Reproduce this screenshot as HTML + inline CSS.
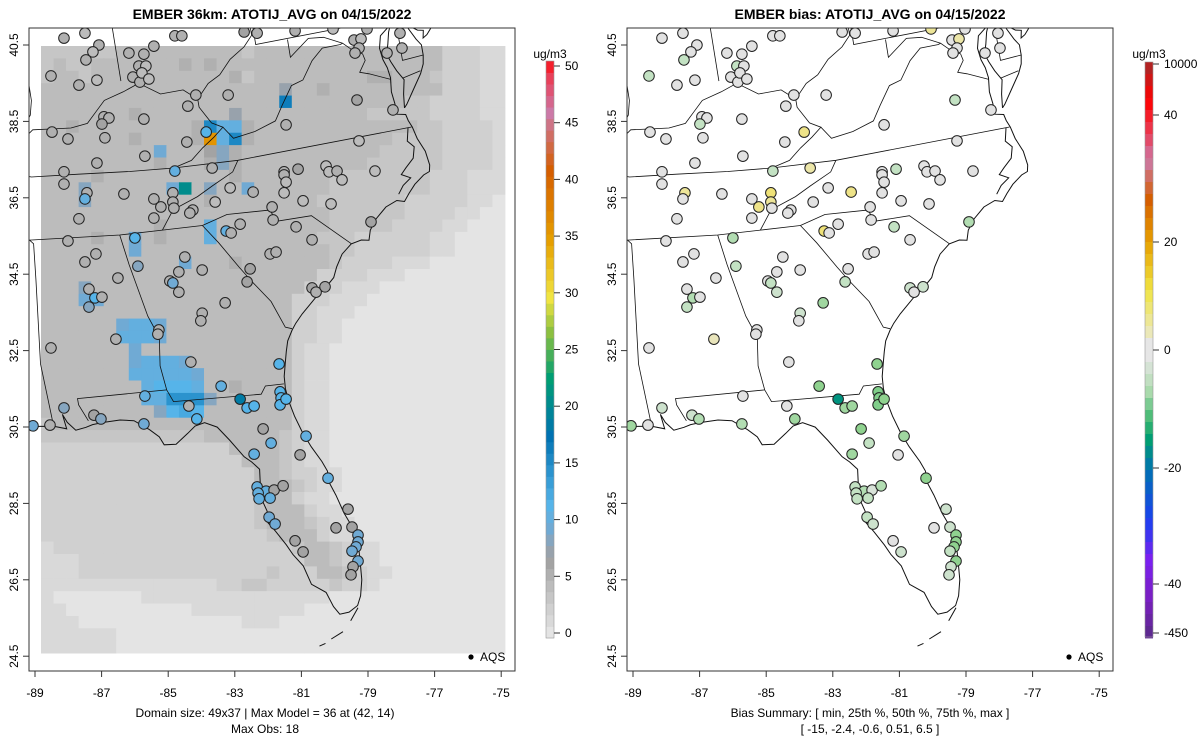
<!DOCTYPE html>
<html><head><meta charset="utf-8">
<style>
html,body{margin:0;padding:0;background:#fff;}
svg{display:block;font-family:"Liberation Sans",Arial,sans-serif;}
</style></head>
<body>
<svg id="chart" width="1200" height="750" viewBox="0 0 1200 750">
<defs>
<clipPath id="clipL"><rect x="29" y="28" width="486" height="643"/></clipPath>
<clipPath id="clipR"><rect x="627" y="28" width="486" height="643"/></clipPath>
</defs>
<g id="panelL"></g>
<g id="panelR"></g>
<text x="272" y="19" text-anchor="middle" font-size="14" font-weight="bold">EMBER 36km: ATOTIJ_AVG on 04/15/2022</text>
<text x="870" y="19" text-anchor="middle" font-size="14" font-weight="bold">EMBER bias: ATOTIJ_AVG on 04/15/2022</text>
<text x="265" y="717" text-anchor="middle" font-size="12">Domain size: 49x37 | Max Model = 36 at (42, 14)</text>
<text x="265" y="733" text-anchor="middle" font-size="12">Max Obs: 18</text>
<text x="870" y="717" text-anchor="middle" font-size="12">Bias Summary: [ min, 25th %, 50th %, 75th %, max ]</text>
<text x="870" y="733" text-anchor="middle" font-size="12">[ -15,   -2.4,   -0.6,   0.51,   6.5 ]</text>
</svg>
<script>
// ---------- data ----------
const xTicks=[-89,-87,-85,-83,-81,-79,-77,-75];
const yTicks=[40.5,38.5,36.5,34.5,32.5,30.5,28.5,26.5,24.5];
const cbTicks=[0,5,10,15,20,25,30,35,40,45,50];
const biasTickLabels=["10000","40","20","0","-20","-40","-450"];
const biasTickVals=[10000,40,20,0,-20,-40,-450];
// gridded model values (37 cols x 49 rows), base-36 digits
const gridRows=[
"3333334444444444344444444444444422211",
"3433444444454544444444444444444422211",
"3443444444444445344444444455444322211",
"4444444444444444444744544444444422211",
"4444444444444444444g44444444433222211",
"4444444544444447444444444433333222211",
"4454444444445faa544444444444443322221",
"4444444544445zaf544444444444333322221",
"4444444449444685444444444443333322221",
"4444444445444585444444444433333322221",
"4444544444444445444444433333333222111",
"44484444449k48449444444333333332221 1".replace(' ','1'),
"4448444444444544444444333333322222110",
"4444444444444444444444433333322221100",
"4444444445444a44444444433333222211000",
"4444544945444a44444444333222222110000",
"4444444944444444444444433222222110000",
"4444444444494445444444432222111000000",
"4444444444444444444444222211100000000",
"4448444444444444444442221110000000000",
"4449944444444444444422211100000000000",
"4444444444444444444422111000000000000",
"4444449aa9444444444422110000000000000",
"444444aaa9444444444422110000000000000",
"4444444944444444444421100000000000000",
"44444449aaa94444444421100000000000000",
"4444444aaaaa9444444421100000000000000",
"44444444abbba445444421100000000000000",
"44444444aaeee844444421100000000000000",
"4444444448bcb444444421100000000000000",
"3444444444444444444421100000000000000",
"3333333333333444444321100000000000000",
"2222222222222224444321100000000000000",
"2222222222222222444321100000000000000",
"2222222222222222244322110000000000000",
"2222222222222222244432110000000000000",
"2222222222222222234421100000000000000",
"2222222222222222234442110000000000000",
"2222222222222222234443211000000000000",
"2222222222222222223444211000000000000",
"1222222222222222222234432110000000000",
"1112222222222222222224432110000000000",
"1112222222222222223222443211000000000",
"1111111111111122332222232210000000000",
"1000000011111111111111100000000000000",
"1100000000001111111110000000000000000",
"1110000000000000111000000000000000000",
"1111110000000000000000000000000000000",
"1111110000000000000000000000000000000"
];
// monitoring sites (axis lon / lat), observed value, bias
const siteLon=[-88.13,-87.50,-87.08,-87.26,-87.47,-88.52,-87.68,-87.14,-86.18,-85.73,-85.43,-84.80,-84.59,-85.88,-85.67,-86.06,-85.85,-85.79,-85.58,-82.72,-82.33,-81.19,-80.05,-79.03,-79.42,-79.21,-79.27,-79.39,-78.43,-77.98,-78.04,-84.17,-84.41,-83.20,-85.73,-86.93,-86.78,-86.99,-88.49,-88.01,-86.90,-83.86,-84.44,-81.46,-79.33,-78.25,-85.70,-87.14,-88.13,-88.13,-84.80,-83.68,-81.52,-81.52,-81.10,-81.46,-80.26,-80.17,-79.93,-79.78,-78.79,-79.27,-87.44,-87.50,-86.33,-84.86,-84.86,-84.83,-85.43,-85.22,-84.26,-84.35,-83.59,-83.14,-82.45,-81.52,-81.88,-80.95,-80.11,-85.43,-87.68,-83.26,-83.11,-82.84,-81.85,-81.16,-80.68,-78.91,-86.00,-88.01,-87.17,-87.50,-85.91,-84.50,-86.51,-87.38,-87.20,-86.99,-87.38,-84.68,-84.95,-84.86,-84.68,-83.98,-82.54,-82.63,-81.94,-81.76,-80.68,-80.56,-80.29,-83.29,-83.98,-84.02,-85.28,-85.31,-86.57,-88.52,-84.32,-81.67,-83.41,-85.70,-82.84,-82.63,-82.42,-81.64,-81.61,-81.64,-81.46,-88.13,-87.23,-87.02,-88.55,-89.06,-85.73,-84.14,-84.38,-82.15,-81.91,-80.86,-81.04,-82.42,-80.20,-82.33,-82.06,-81.82,-81.55,-82.30,-82.27,-81.94,-81.97,-81.79,-81.19,-80.95,-79.60,-79.96,-79.48,-79.30,-79.30,-79.36,-79.48,-79.30,-79.45,-79.51];
const siteLat=[40.68,40.81,40.50,40.32,40.11,39.69,39.45,39.58,40.29,40.26,40.47,40.74,40.74,39.95,39.95,39.66,39.53,39.77,39.61,40.84,40.81,40.87,40.92,40.92,40.63,40.66,40.42,40.29,40.29,40.42,40.81,39.19,38.90,39.19,38.56,38.62,38.59,38.43,38.22,38.04,38.07,38.22,37.96,38.41,39.06,38.80,37.59,37.41,37.18,36.86,37.20,37.28,37.18,37.10,37.25,36.91,37.33,37.18,37.20,36.97,37.20,37.99,36.63,36.47,36.60,36.63,36.39,36.23,36.47,36.26,36.18,36.10,36.39,36.76,36.65,36.63,36.26,36.42,36.34,35.97,35.95,35.63,35.58,35.81,35.92,35.74,35.40,35.87,35.45,35.37,35.03,34.82,34.71,34.95,34.40,34.11,33.88,33.90,33.64,34.56,34.32,34.27,34.03,34.61,34.64,34.30,35.03,35.08,34.14,34.03,34.17,33.75,33.48,33.28,33.04,32.93,32.80,32.57,32.20,32.15,31.57,31.31,31.23,31.00,31.05,31.42,31.26,31.08,31.23,31.00,30.81,30.71,30.55,30.53,30.58,30.71,31.05,30.45,30.08,30.26,29.77,29.79,29.16,28.93,28.82,28.85,28.96,28.77,28.62,28.64,28.14,27.96,27.52,27.23,28.35,27.86,27.88,27.67,27.49,27.36,27.25,26.99,26.84,26.63];
const siteObs=[5,4,5,4,5,5,5,4,5,5,5,5,5,5,4,5,5,4,4,6,5,5,4,5,5,4,5,5,5,5,5,5,5,5,5,5,5,6,5,5,5,11,5,5,6,5,5,5,5,5,10,5,5,5,6,4,4,4,5,4,4,4,5,10,5,5,5,5,5,5,5,5,4,4,5,4,5,4,4,5,5,10,5,5,5,5,5,6,11,5,5,5,8,5,5,5,11,5,8,5,5,9,5,5,6,6,5,5,6,5,6,5,5,5,5,5,5,5,5,11,10,10,18,11,11,11,11,11,11,8,6,8,5,9,9,11,5,6,10,10,6,10,10,10,10,6,6,10,10,10,9,9,6,6,6,6,6,9,9,9,9,9,6,6];
const siteBias=[0,0,0,0,-3,-3,0,0,0,0,0,0,0,-3,0,0,0,0,0,0,0,0,4,0,0,3,0,0,0,0,0,0,0,0,0,0,0,-3,0,0,0,5,0,0,-3,0,0,0,0,0,-3,3,0,0,-3,0,0,0,0,0,0,0,4,0,0,6,4,0,0,5,0,0,0,0,5,0,0,0,0,0,0,6,0,0,0,-3,0,-4,-4,0,0,0,-3,0,0,0,-4,0,-3,0,0,-3,-2,0,0,-3,0,0,-2,0,-2,-5,-2,0,0,0,2,0,0,-6,-6,0,-15,-5,-5,-7,-7,-7,-6,-2,-2,-4,0,-5,-4,-5,0,-6,-3,-5,0,-5,-6,-3,-4,-1,-4,-3,-3,-3,-3,-2,0,-2,-2,0,-2,-6,-6,-6,-3,-6,-2,-2];

// ---------- geography (lon/lat outlines) ----------
const coastLines=[
[[-74.0,40.6],[-74.05,40.1],[-74.1,39.75],[-74.4,39.35],[-74.8,39.0],[-74.95,38.93],[-74.9,39.15],[-75.1,39.2],[-75.4,39.4],[-75.55,39.6],[-75.5,39.8]],
[[-75.55,39.6],[-75.4,39.3],[-75.2,38.95],[-75.05,38.75],[-75.05,38.45],[-75.1,38.2],[-75.25,37.95],[-75.6,37.55],[-75.9,37.2],[-76.0,37.12]],
[[-76.0,37.12],[-75.95,37.5],[-75.85,37.9],[-76.05,38.2],[-76.2,38.5],[-76.3,38.75],[-76.2,39.0],[-76.1,39.35],[-76.0,39.55],[-76.4,39.3],[-76.5,38.95],[-76.45,38.6],[-76.35,38.35],[-76.3,38.05],[-76.35,37.65],[-76.3,37.3],[-76.3,37.0],[-76.0,36.93],[-75.95,36.75],[-75.85,36.55],[-75.75,36.2],[-75.55,35.8],[-75.48,35.4],[-75.53,35.23],[-75.75,35.18],[-76.1,35.0],[-76.35,34.8],[-76.55,34.62],[-76.8,34.7],[-77.2,34.6],[-77.6,34.35],[-77.85,34.1],[-77.95,33.85],[-78.2,33.9],[-78.55,33.86],[-78.9,33.65],[-79.15,33.35],[-79.3,33.1],[-79.6,32.9],[-79.9,32.75],[-80.2,32.55],[-80.5,32.35],[-80.75,32.15],[-80.9,32.0],[-81.1,31.75],[-81.2,31.5],[-81.3,31.2],[-81.4,30.9],[-81.43,30.6],[-81.4,30.3],[-81.3,29.9],[-81.15,29.5],[-80.95,29.1],[-80.7,28.7],[-80.58,28.45],[-80.6,28.2],[-80.45,27.85],[-80.3,27.4],[-80.1,27.0],[-80.03,26.6],[-80.07,26.2],[-80.12,25.8],[-80.25,25.45],[-80.4,25.25],[-80.7,25.15],[-81.0,25.15],[-81.15,25.35],[-81.3,25.7],[-81.7,25.95],[-81.85,26.4],[-82.1,26.7],[-82.25,26.95],[-82.5,27.3],[-82.7,27.55],[-82.65,27.8],[-82.75,28.1],[-82.7,28.5],[-82.65,28.8],[-82.85,29.0],[-83.05,29.15],[-83.4,29.6],[-83.7,29.95],[-84.05,30.1],[-84.35,30.05],[-84.6,29.9],[-85.0,29.68],[-85.35,29.7],[-85.45,29.9],[-85.7,30.1],[-86.1,30.35],[-86.5,30.4],[-87.0,30.38],[-87.3,30.35],[-87.5,30.3],[-87.8,30.25],[-88.0,30.45],[-88.1,30.65],[-88.05,30.3],[-88.4,30.38],[-88.8,30.4],[-89.1,30.35],[-89.35,30.3],[-89.6,30.2],[-89.7,30.05],[-89.6,29.85]],
[[-76.0,36.55],[-76.1,36.2],[-75.9,36.0],[-76.0,35.7],[-76.3,35.5],[-76.5,35.35],[-76.2,35.2],[-76.5,35.05],[-76.7,34.85]],
[[-80.4,25.2],[-80.7,24.95]],[[-81.0,24.75],[-81.4,24.65]],[[-81.6,24.58],[-81.8,24.55]]
];
const borderLines=[
[[-89.1,37.0],[-88.5,37.1],[-88.1,37.5],[-87.6,37.9],[-87.0,37.9],[-86.5,37.9],[-86.0,38.0],[-85.7,38.3],[-85.4,38.6],[-84.8,38.8],[-84.3,39.0],[-83.7,38.65],[-83.0,38.7],[-82.6,38.4],[-82.2,38.8],[-81.8,39.0],[-81.4,39.4],[-80.9,39.7],[-80.6,40.0],[-80.6,40.6],[-80.52,40.64]],
[[-82.6,38.4],[-82.6,38.17],[-82.3,37.7],[-81.97,37.54],[-82.3,37.3],[-82.7,37.05],[-83.1,36.75],[-83.68,36.6]],
[[-88.1,37.5],[-87.9,37.9],[-87.6,38.3],[-87.5,38.7],[-87.5,39.3],[-87.53,41.0]],
[[-84.82,39.1],[-84.82,41.0]],
[[-81.97,37.54],[-81.7,37.2],[-81.0,37.3],[-80.3,37.5],[-80.0,37.9],[-79.6,38.4],[-79.2,38.5],[-78.8,39.0],[-78.4,39.3],[-77.8,39.3],[-77.7,39.32]],
[[-77.7,39.32],[-78.3,39.6],[-78.8,39.65],[-79.48,39.2],[-79.48,39.72]],
[[-80.52,41.0],[-80.52,39.72],[-75.79,39.72]],
[[-77.7,39.32],[-77.45,39.1],[-77.1,38.9],[-77.05,38.7],[-77.3,38.4],[-77.0,38.3],[-76.3,38.0]],
[[-75.79,39.72],[-75.79,38.45],[-75.05,38.45]],
[[-75.9,37.95],[-75.24,38.03]],
[[-75.5,39.8],[-74.9,40.1],[-75.0,40.4],[-75.2,40.6],[-75.1,41.0]],
[[-89.55,36.5],[-88.05,36.5],[-88.05,36.68],[-87.85,36.64],[-86.5,36.65],[-85.0,36.62],[-83.68,36.6],[-81.68,36.59],[-75.87,36.55]],
[[-81.68,36.59],[-81.9,36.3],[-82.6,36.0],[-83.1,35.77],[-83.9,35.5],[-84.32,35.0]],
[[-90.3,35.0],[-88.2,35.0],[-85.6,34.98],[-84.32,35.0],[-83.1,35.0]],
[[-83.1,35.0],[-82.3,35.2],[-81.04,35.15],[-80.93,35.1],[-80.78,34.82],[-79.67,34.8],[-78.54,33.86]],
[[-83.1,35.0],[-82.7,34.5],[-82.2,33.8],[-81.9,33.4],[-81.4,32.8],[-81.1,32.1],[-80.9,32.03]],
[[-85.6,34.98],[-85.47,34.2],[-85.18,32.86],[-84.95,32.3],[-85.07,31.6],[-85.0,31.0],[-84.86,30.7],[-82.2,30.57],[-82.03,30.75],[-81.45,30.72]],
[[-85.0,31.0],[-87.6,31.0],[-87.6,30.85],[-87.4,30.45]],
[[-88.2,35.0],[-88.1,34.9],[-88.2,34.0],[-88.47,31.9],[-88.4,30.39]],
[[-89.1,37.0],[-89.4,36.8],[-89.55,36.5],[-89.7,36.0],[-90.1,35.1],[-90.3,34.6],[-90.9,34.0]],
[[-89.6,30.2],[-89.75,31.0],[-91.6,31.0]]
];
// control points tying lon/lat to the map frame
const ctrlGeo=[[-75.53,35.25],[-75.87,36.55],[-76.53,34.6],[-77.95,33.85],[-78.54,33.86],[-79.9,32.75],[-80.9,32.03],[-81.45,30.72],[-85.0,31.0],[-87.6,31.0],[-88.4,30.39],[-80.13,25.77],[-82.7,27.6],[-85.0,29.68],[-85.6,34.98],[-83.68,36.6],[-81.68,36.59],[-83.1,35.0],[-82.6,38.35],[-76.0,36.93]];
const ctrlPix=[[433,173],[408,128],[408,203],[368,243],[352,245],[318,290],[293,312],[276,392],[165,395],[77,397],[52,422],[357,577],[280,530],[173,440],[125,241],[172,172],[237,161],[203,225],[198,96],[405,113]];

// ---------- helpers ----------
const NS='http://www.w3.org/2000/svg';
function mk(tag,attrs,parent){const e=document.createElementNS(NS,tag);for(const k in attrs)e.setAttribute(k,attrs[k]);parent.appendChild(e);return e;}
const axX=lon=>35+(lon+89)*33.3;
const axY=lat=>45+(40.5-lat)*38.2;
const basis=(lon,lat)=>{const a=lon+82,b=lat-33;return [1,a,b,a*a,b*b,a*b];};
function solveN(A,b){const n=b.length;const M=A.map((r,i)=>r.concat([b[i]]));
 for(let i=0;i<n;i++){let p=i;for(let k=i+1;k<n;k++)if(Math.abs(M[k][i])>Math.abs(M[p][i]))p=k;[M[i],M[p]]=[M[p],M[i]];
  for(let k=0;k<n;k++){if(k===i)continue;const f=M[k][i]/M[i][i];for(let j=i;j<=n;j++)M[k][j]-=f*M[i][j];}}
 return M.map((r,i)=>r[n]/r[i]);}
const NB=6;const ATA=[...Array(NB)].map(()=>Array(NB).fill(0)),bx=Array(NB).fill(0),by=Array(NB).fill(0);
ctrlGeo.forEach((g,i)=>{const v=basis(g[0],g[1]);for(let a=0;a<NB;a++){for(let c=0;c<NB;c++)ATA[a][c]+=v[a]*v[c];bx[a]+=v[a]*ctrlPix[i][0];by[a]+=v[a]*ctrlPix[i][1];}});
const cx=solveN(ATA,bx),cy=solveN(ATA,by);
function geo(lon,lat){const v=basis(lon,lat);let x=0,y=0;for(let i=0;i<NB;i++){x+=cx[i]*v[i];y+=cy[i]*v[i];}return [x,y];}

function hex(c){return [1,3,5].map(i=>parseInt(c.substr(i,2),16));}
function interp(stops,v){if(v<=stops[0][0])return stops[0][1];for(let i=1;i<stops.length;i++){if(v<=stops[i][0]){const a=hex(stops[i-1][1]),b=hex(stops[i][1]),f=(v-stops[i-1][0])/(stops[i][0]-stops[i-1][0]);return 'rgb('+a.map((x,k)=>Math.round(x+(b[k]-x)*f)).join(',')+')';}}return stops[stops.length-1][1];}
const modelStops=[[0,'#e4e4e4'],[1,'#d9d9d9'],[2,'#d0d0d0'],[3,'#c6c6c6'],[4,'#bcbcbc'],[5,'#b0b0b0'],[6,'#a3a3a3'],[7,'#98a2ac'],[8,'#86a6c0'],[9,'#70aad4'],[11,'#56b4e9'],[17,'#0072b2'],[22,'#009e73'],[26,'#8cc040'],[29,'#f0e442'],[34,'#e69f00'],[40,'#d55e00'],[45,'#cc79a7'],[48,'#e8405a'],[50,'#ff0000']];
const biasStops=[[-450,'#5a2a8a'],[-40,'#8a1fd6'],[-30,'#3a2cf5'],[-20,'#0072b2'],[-15,'#00937f'],[-10,'#52c27a'],[-6,'#8fd28f'],[-3,'#c3e2c3'],[0,'#e2e2e2'],[3,'#ece6a8'],[6,'#efe278'],[10,'#f0c830'],[20,'#e69f00'],[25,'#d55e00'],[30,'#cc79a7'],[35,'#e8405a'],[40,'#ff0000'],[10000,'#a52a2a']];
const modelColor=v=>interp(modelStops,v);
const biasColor=v=>interp(biasStops,v);

function drawAxes(g,off){
 mk('rect',{x:29+off,y:28,width:486,height:643,fill:'none',stroke:'#333','stroke-width':1},g);
 xTicks.forEach(t=>{const x=axX(t)+off;
  const l=mk('line',{x1:x,x2:x,y1:671,y2:677,stroke:'#333'},g);
  
  
  const tx=mk('text',{x:x,y:697,'text-anchor':'middle','font-size':12},g);tx.textContent=t;
  
  });
 yTicks.forEach(t=>{const y=axY(t);
  const l=mk('line',{x1:23+off,x2:29+off,y1:y,y2:y,stroke:'#333'},g);
  
  
  const tx=mk('text',{x:0,y:0,'text-anchor':'middle','font-size':12,transform:'translate('+(18+off)+','+y+') rotate(-90)'},g);tx.textContent=t.toFixed(1);
  
  });
}
function drawMap(g,off){
 const draw=(lines,w,name)=>lines.forEach(L=>{const pts=L.map(p=>{const q=geo(p[0],p[1]);return (q[0]+off).toFixed(1)+','+q[1].toFixed(1);}).join(' ');
  const pl=mk('polyline',{points:pts,fill:'none',stroke:'#111','stroke-width':w},g);
  
  });
 draw(borderLines,0.8,'state-border');draw(coastLines,1,'coastline');
}
function drawSites(g,off,colorFn,vals){
 siteLon.forEach((lon,i)=>{const c=mk('circle',{cx:axX(lon)+off,cy:axY(siteLat[i]),r:5.3,fill:colorFn(vals[i]),stroke:'#222','stroke-width':1},g);
  
  });
}
function drawLegend(g,off){
 const c=mk('circle',{cx:471+off,cy:657,r:2.6,fill:'#000'},g);
 
 
 const t=mk('text',{x:480+off,y:661,'font-size':12},g);t.textContent='AQS';
 
 
}

// ---------- left panel ----------
const gL=document.getElementById('panelL');
const mapL=mk('g',{'clip-path':'url(#clipL)'},gL);


const cw=12.54,ch=12.39;
gridRows.forEach((row,r)=>{for(let c=0;c<37;c++){const v=parseInt(row[c],36);
 const rc=mk('rect',{x:(41+c*cw).toFixed(2),y:(46+r*ch).toFixed(2),width:(cw+0.4).toFixed(2),height:(ch+0.4).toFixed(2),fill:modelColor(v)},mapL);
 
 }});
drawMap(mapL,0);
drawSites(mapL,0,modelColor,siteObs);
drawAxes(gL,0);
drawLegend(gL,0);
// model colorbar
const cbL=mk('g',{},gL);


const bandH=577/50;
for(let i=0;i<50;i++){mk('rect',{x:546,y:(638-(i+1)*bandH).toFixed(2),width:8,height:(bandH+0.4).toFixed(2),fill:modelColor(i)},cbL);}
mk('rect',{x:546,y:61,width:8,height:577,fill:'none',stroke:'#999','stroke-width':0.6},cbL);
const cbY=v=>633-v*11.34;
cbTicks.forEach(t=>{const y=cbY(t);mk('line',{x1:554,x2:560,y1:y,y2:y,stroke:'#333'},cbL);
 const tx=mk('text',{x:565,y:y+4,'font-size':12},cbL);tx.textContent=t;
 
 });
const uL=mk('text',{x:550,y:58,'text-anchor':'middle','font-size':12},cbL);uL.textContent='ug/m3';

// ---------- right panel ----------
const gR=document.getElementById('panelR');
const mapR=mk('g',{'clip-path':'url(#clipR)'},gR);


drawMap(mapR,598);
drawSites(mapR,598,biasColor,siteBias);
drawAxes(gR,598);
drawLegend(gR,598);
const cbR=mk('g',{},gR);


const biasTickY=[64,115,242,350,468,584,633];
const barStops=[[62,'#a52a2a'],[100,'#ff0000'],[135,'#e8405a'],[160,'#cc79a7'],[200,'#d55e00'],[242,'#e69f00'],[290,'#f0e442'],[330,'#ece8b0'],[343,'#e6e6e6'],[358,'#e6e6e6'],[390,'#b0dcb0'],[420,'#40b870'],[440,'#009e73'],[470,'#0072b2'],[520,'#1a40f0'],[560,'#7a20f0'],[600,'#7a1fc0'],[637,'#5a2a8a']];
for(let y=62;y<637;y+=12){mk('rect',{x:1145,y:y,width:8,height:12.4,fill:interp(barStops,y+6)},cbR);}
mk('rect',{x:1145,y:62,width:8,height:575,fill:'none',stroke:'#999','stroke-width':0.6},cbR);
biasTickLabels.forEach((t,i)=>{const y=biasTickY[i];mk('line',{x1:1153,x2:1159,y1:y,y2:y,stroke:'#333'},cbR);
 const tx=mk('text',{x:1164,y:y+4,'font-size':12},cbR);tx.textContent=t;
 
 });
const uR=mk('text',{x:1149,y:58,'text-anchor':'middle','font-size':12},cbR);uR.textContent='ug/m3';
</script>
</body></html>
